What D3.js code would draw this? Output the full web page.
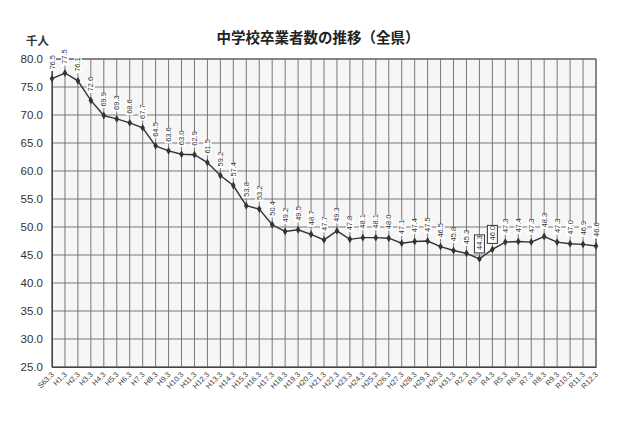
<!DOCTYPE html>
<html><head><meta charset="utf-8">
<script src="https://cdn.jsdelivr.net/npm/d3@7"></script>
<style>
html,body{margin:0;padding:0;background:#fff;}
svg{display:block;}
</style>
</head><body>
<svg id="chart" width="640" height="426"></svg>
<script>
const title = "中学校卒業者数の推移（全県）";
const unitLabel = "千人";
const categories = ["S63.3","H1.3","H2.3","H3.3","H4.3","H5.3","H6.3","H7.3","H8.3","H9.3","H10.3","H11.3","H12.3","H13.3","H14.3","H15.3","H16.3","H17.3","H18.3","H19.3","H20.3","H21.3","H22.3","H23.3","H24.3","H25.3","H26.3","H27.3","H28.3","H29.3","H30.3","H31.3","R2.3","R3.3","R4.3","R5.3","R6.3","R7.3","R8.3","R9.3","R10.3","R11.3","R12.3"];
const values = [76.5,77.5,76.1,72.6,69.9,69.3,68.6,67.7,64.5,63.6,63.0,62.9,61.5,59.2,57.4,53.8,53.2,50.4,49.2,49.5,48.7,47.7,49.3,47.8,48.1,48.1,48.0,47.1,47.4,47.5,46.5,45.8,45.3,44.3,46.0,47.3,47.4,47.3,48.3,47.3,47.0,46.9,46.6];
const boxedCategories = ["R3.3","R4.3"];
const yTicks = [25,30,35,40,45,50,55,60,65,70,75,80];

(function(){
const svg = d3.select("#chart");
const pL = 52, pR = 596, pT = 59, pB = 367;

const x = d3.scalePoint().domain(categories).range([pL, pR]).padding(0);
const y = d3.scaleLinear().domain([25, 80]).range([pB, pT]);

// title
svg.append("text").attr("x", 318).attr("y", 43).attr("text-anchor","middle")
  .attr("font-family","'Noto Sans CJK JP', sans-serif").attr("font-weight","bold")
  .attr("font-size",14.5).attr("fill","#222").text(title);

// unit label
svg.append("text").attr("x", 26).attr("y", 45)
  .attr("font-family","'Noto Sans CJK JP', sans-serif").attr("font-weight","bold")
  .attr("font-size",11.5).attr("fill","#333").text(unitLabel);

// plot background
svg.append("rect").attr("x", pL).attr("y", pT).attr("width", pR-pL).attr("height", pB-pT)
  .attr("fill","#f6f6f6");

// grid
const grid = svg.append("g").attr("stroke","#6a6a6a").attr("stroke-width",0.9);
grid.selectAll("line.v").data(categories).join("line").attr("class","v")
  .attr("x1", d=>x(d)).attr("x2", d=>x(d)).attr("y1", pT).attr("y2", pB);
grid.selectAll("line.h").data(yTicks).join("line").attr("class","h")
  .attr("x1", pL).attr("x2", pR).attr("y1", d=>y(d)).attr("y2", d=>y(d));

// y axis
const yAxis = d3.axisLeft(y).tickValues(yTicks).tickFormat(d3.format(".1f")).tickSize(0).tickPadding(9);
const ya = svg.append("g").attr("transform",`translate(${pL},0)`).call(yAxis);
ya.select(".domain").attr("stroke","#333");
ya.selectAll("text").attr("font-family","'Liberation Sans Narrow', 'Liberation Sans', Arial, sans-serif").attr("font-size",11.5).attr("fill","#333");

// x axis
const xAxis = d3.axisBottom(x).tickSize(0).tickPadding(0);
const xa = svg.append("g").attr("transform",`translate(0,${pB})`).call(xAxis);
xa.select(".domain").attr("stroke","#333");
xa.selectAll("text")
  .attr("font-family","'Liberation Sans', Arial, sans-serif").attr("font-size",7.5).attr("fill","#444")
  .attr("text-anchor","end").attr("dy",0)
  .attr("transform","translate(2,8) rotate(-45)");

// frame
svg.append("rect").attr("x", pL).attr("y", pT).attr("width", pR-pL).attr("height", pB-pT)
  .attr("fill","none").attr("stroke","#555").attr("stroke-width",1);

// line
const data = categories.map((c,i)=>({c, v: values[i]}));
svg.append("path").datum(data)
  .attr("fill","none").attr("stroke","#333").attr("stroke-width",1.4)
  .attr("d", d3.line().x(d=>x(d.c)).y(d=>y(d.v)));

// markers (diamonds)
svg.append("g").selectAll("path").data(data).join("path")
  .attr("transform", d=>`translate(${x(d.c)},${y(d.v)})`)
  .attr("d", d3.symbol(d3.symbolDiamond, 18)())
  .attr("fill","#333");

// data labels
const lab = svg.append("g");
const lg = lab.selectAll("g").data(data).join("g")
  .attr("transform", d=>`translate(${x(d.c)+2.5},${y(d.v)-8}) rotate(-90)`);
lg.append("rect")
  .attr("x", d => boxedCategories.includes(d.c) ? -2 : -0.5)
  .attr("y", d => boxedCategories.includes(d.c) ? -7.5 : -6.5)
  .attr("width", d => boxedCategories.includes(d.c) ? 18 : 15)
  .attr("height", d => boxedCategories.includes(d.c) ? 10 : 8)
  .attr("fill", "#fff")
  .attr("stroke", d => boxedCategories.includes(d.c) ? "#333" : "none")
  .attr("stroke-width", 1);
lg.append("text")
  .attr("x", 1).attr("y", 0)
  .attr("font-family","'Liberation Sans Narrow', 'Liberation Sans', Arial, sans-serif").attr("font-size",7.5).attr("fill","#333")
  .text(d=>d3.format(".1f")(d.v));
})();
</script>
</body></html>
